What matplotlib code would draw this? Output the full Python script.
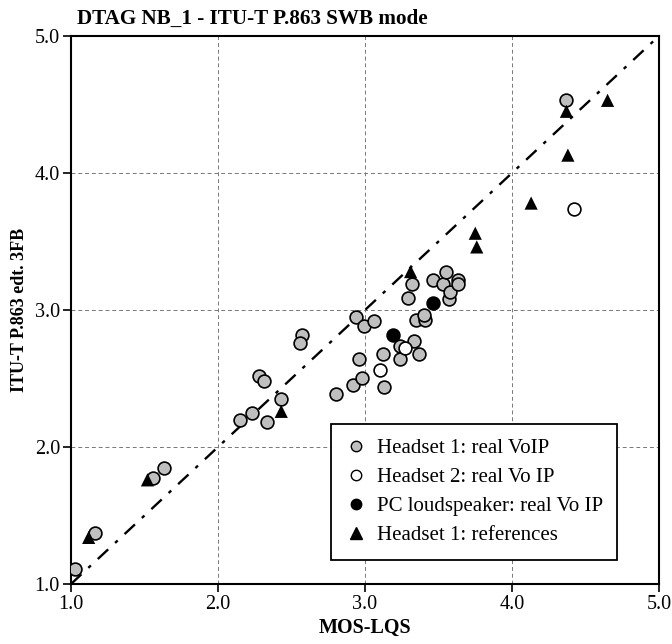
import numpy as np
import matplotlib.pyplot as plt
from matplotlib.lines import Line2D

plt.rcParams["font.family"] = ["Liberation Serif", "DejaVu Serif"]

# Headset 1: real VoIP (grey circles)
h1_x = [1.03, 1.16, 1.56, 1.63, 2.15, 2.23, 2.33, 2.43, 2.28, 2.31, 2.57, 2.56,
        2.80, 2.92, 2.98, 2.96, 3.13, 3.12, 3.24, 3.24, 3.33, 3.37, 2.94, 2.99,
        3.06, 3.35, 3.41, 3.40, 3.29, 3.32, 3.46, 3.53, 3.55, 3.57, 3.58, 3.63,
        3.63, 4.37]
h1_y = [1.11, 1.37, 1.77, 1.85, 2.20, 2.25, 2.18, 2.35, 2.52, 2.48, 2.82, 2.76,
        2.39, 2.45, 2.50, 2.64, 2.44, 2.68, 2.64, 2.74, 2.77, 2.68, 2.95, 2.88,
        2.92, 2.93, 2.93, 2.96, 3.09, 3.19, 3.22, 3.19, 3.28, 3.08, 3.13, 3.22,
        3.19, 4.53]
# Headset 2: real Vo IP (white circles)
h2_x = [3.27, 3.10, 4.42]
h2_y = [2.72, 2.56, 3.74]
# PC loudspeaker (black circles)
pc_x = [3.19, 3.46]
pc_y = [2.82, 3.05]
# Headset 1: references (triangles)
ref_x = [1.12, 1.52, 2.43, 3.31, 3.75, 3.76, 4.13, 4.38, 4.37, 4.65]
ref_y = [1.34, 1.76, 2.26, 3.28, 3.56, 3.46, 3.78, 4.13, 4.45, 4.53]

ticks = [1.0, 2.0, 3.0, 4.0, 5.0]
tick_labels = ["1.0", "2.0", "3.0", "4.0", "5.0"]

fig = plt.figure(figsize=(6.72, 6.44), dpi=100)
ax = fig.add_axes([0.1057, 0.0932, 0.875, 0.851])

ax.set_xlim(1, 5)
ax.set_ylim(1, 5)
ax.set_xticks(ticks)
ax.set_xticklabels(tick_labels, fontsize=14.5)
ax.set_yticks(ticks)
ax.set_yticklabels(tick_labels, fontsize=14.5)
ax.tick_params(direction="out", length=6, width=1.2, pad=2)
for sp in ax.spines.values():
    sp.set_linewidth(1.5)
ax.grid(True, color="#777777", linestyle=(0, (4, 3)), linewidth=0.7)

ax.plot([1, 5], [1, 5], color="black", linestyle=(0, (6, 4, 1.5, 4)), linewidth=1.7, zorder=2)

ms = 85
ax.scatter(h1_x, h1_y, s=ms, c="#bfbfbf", edgecolors="black", linewidths=1.2, zorder=3)
ax.scatter(h2_x, h2_y, s=ms, c="white", edgecolors="black", linewidths=1.2, zorder=3)
ax.scatter(pc_x, pc_y, s=ms, c="black", edgecolors="black", linewidths=1.2, zorder=3)
ax.scatter(ref_x, ref_y, s=90, c="black", marker="^", edgecolors="none", zorder=4)

ax.set_xlabel("MOS-LQS", fontsize=14.5, fontweight="bold", labelpad=3)
ax.set_ylabel("ITU-T P.863 edt. 3FB", fontsize=13, fontweight="bold", labelpad=5)
fig.text(0.115, 0.963, "DTAG NB_1 - ITU-T P.863 SWB mode", fontsize=15.2, fontweight="bold")

handles = [
    Line2D([], [], marker="o", linestyle="none", markersize=7.5, markerfacecolor="#bfbfbf", markeredgecolor="black"),
    Line2D([], [], marker="o", linestyle="none", markersize=7.5, markerfacecolor="white", markeredgecolor="black"),
    Line2D([], [], marker="o", linestyle="none", markersize=7.5, markerfacecolor="black", markeredgecolor="black"),
    Line2D([], [], marker="^", linestyle="none", markersize=8.5, markerfacecolor="black", markeredgecolor="black"),
]
labels = ["Headset 1: real VoIP", "Headset 2: real Vo IP", "PC loudspeaker: real Vo IP", "Headset 1: references"]
leg = ax.legend(handles, labels, loc="lower right", bbox_to_anchor=(0.929, 0.044), borderaxespad=0,
                fontsize=15, fancybox=False, framealpha=1, edgecolor="black", handletextpad=0.5,
                handlelength=1.0, labelspacing=0.45, borderpad=0.7)
leg.get_frame().set_linewidth(1.3)

fig.savefig("out.png", dpi=100)
